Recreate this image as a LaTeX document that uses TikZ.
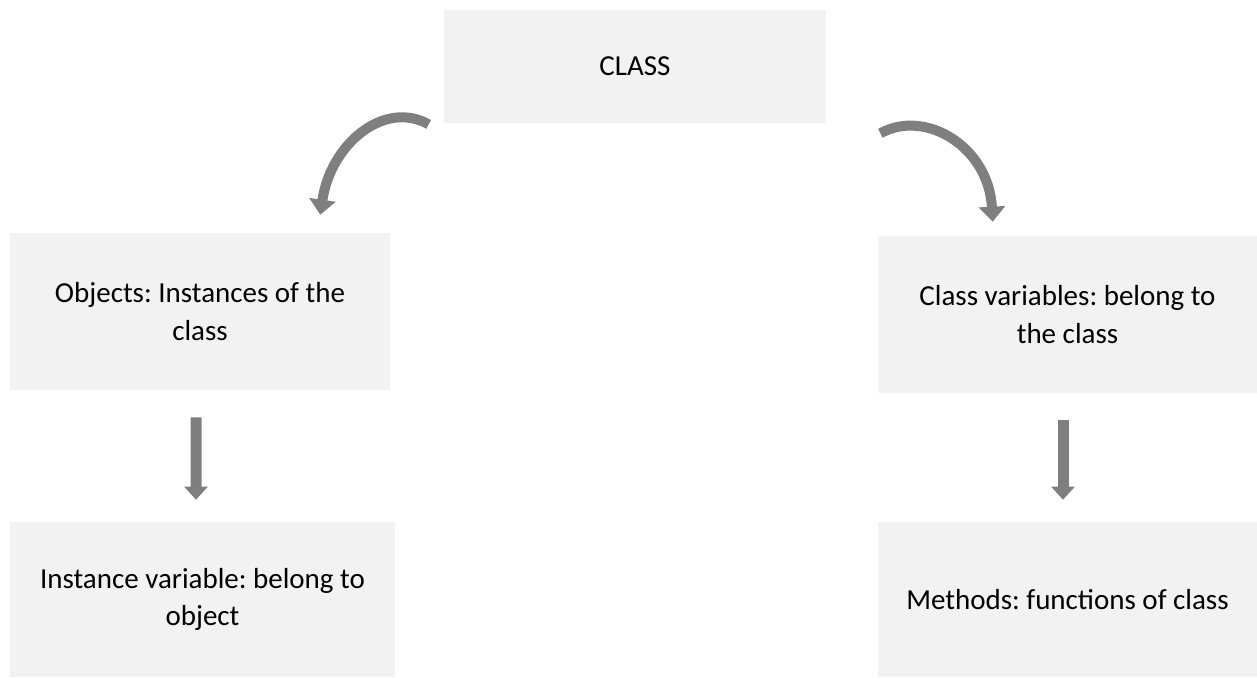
\documentclass[tikz,border=0pt]{standalone}
\usepackage{fontspec}
\setmainfont{Carlito}
\usepackage{tikz}
\usetikzlibrary{positioning, arrows.meta}
\definecolor{boxgray}{HTML}{F2F2F2}
\definecolor{arrowgray}{HTML}{7F7F7F}
\frenchspacing

\begin{document}
\begin{tikzpicture}[
  x=0.02cm, y=-0.02cm,
  every node/.style={font=\fontsize{16.5}{21.5}\selectfont, align=center},
  box/.style={fill=boxgray, inner sep=0pt, minimum height=3.14cm},
  bendarrow/.style={arrowgray, line width=0.2cm, -{Triangle[width=0.52cm, length=0.3cm]}},
  downarrow/.style={arrowgray, line width=0.22cm, -{Triangle[width=0.46cm, length=0.26cm]},
                    shorten <=0.54cm, shorten >=0.44cm}
]
\useasboundingbox (0,0) rectangle (1257,677);

% top box
\node[box, minimum width=7.64cm, minimum height=2.26cm] (cls) at (635, 66.5) {CLASS};

% left branch
\node[box, minimum width=7.6cm] (objs) at (200, 311.5) {Objects: Instances of the\\class};
\node[box, minimum width=7.7cm, minimum height=3.1cm] (instvar) at (202.5, 599.5) {Instance variable: belong to\\object};

% right branch
\node[box, minimum width=7.58cm] (clsvar) at (1067.5, 314.5) {Class variables: belong to\\the class};
\node[box, minimum width=7.58cm, minimum height=3.1cm] (meth) at (1067.5, 599.5) {Methods: functions of class};

% curved arrows out of the class
\draw[bendarrow] ([shift={(-15,1)}]cls.south west)
  .. controls +(-45,-25) and +(10,-70) .. ([shift={(-70,-18)}]objs.north east);
\draw[bendarrow] ([shift={(54,10)}]cls.south east)
  .. controls +(45,-25) and +(-4,-75) .. ([shift={(115,-14)}]clsvar.north west);

% straight arrows
\draw[downarrow] ([xshift=-0.08cm]objs.south) -- ([xshift=-0.13cm]instvar.north);
\draw[downarrow] ([xshift=-0.09cm]clsvar.south) -- ([xshift=-0.09cm]meth.north);

\end{tikzpicture}
\end{document}
